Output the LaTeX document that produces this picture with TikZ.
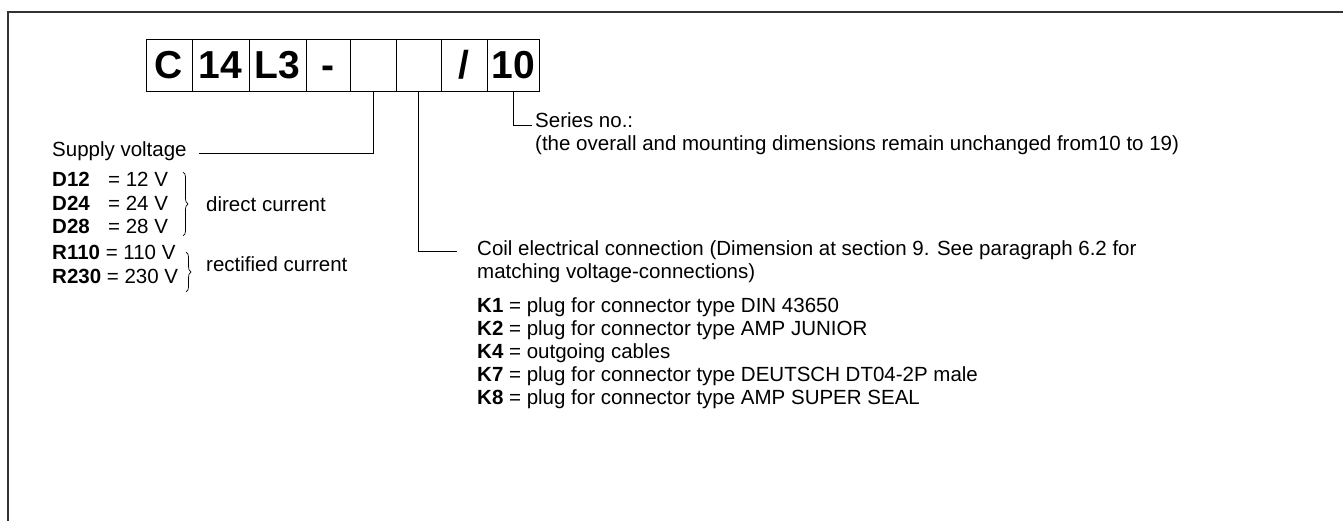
\documentclass[tikz,border=0pt]{standalone}
\usepackage{fontspec}
\setmainfont{Liberation Sans}
\usetikzlibrary{decorations.pathreplacing}
\begin{document}
\begin{tikzpicture}[x=1pt,y=-1pt,
  box/.style={draw, line width=0.8pt, minimum height=52pt, inner sep=0pt,
    font=\fontsize{39}{39}\selectfont\bfseries, text height=28pt, text depth=0pt},
  txt/.style={anchor=base west, inner sep=0pt, font=\fontsize{20.5}{23}\selectfont},
  conn/.style={line width=0.8pt},
  frame/.style={line width=1.3pt, draw=black!80},
  brc/.style={decorate, decoration={brace, amplitude=5pt}, line width=0.7pt}]
\useasboundingbox (0,0) rectangle (1343,521);
\draw[frame] (8,530) -- (8,12) -- (1350,12);
% code boxes
\node[box, minimum width=46pt] (b1) at (169,65) {C};
\node[box, minimum width=57pt] (b2) at (220.5,65) {14};
\node[box, minimum width=57pt] (b3) at (277.5,65) {L3};
\node[box, minimum width=44pt] (b4) at (328,65) {-};
\node[box, minimum width=46pt] (b5) at (373,65) {};
\node[box, minimum width=45pt] (b6) at (418.5,65) {};
\node[box, minimum width=46pt] (b7) at (464,65) {/};
\node[box, minimum width=52pt] (b8) at (513,65) {10};
% series
\node[txt] (ser) at (535,128) {Series no.:};
\node[txt] (ser2) at (535,151) {(the overall and mounting dimensions remain unchanged from10 to 19)};
\draw[conn] (b8.south) |- ([xshift=-3pt,yshift=3pt]ser.base west);
% supply voltage
\node[txt] (sup) at (52,157) {Supply voltage};
\draw[conn] (b5.south) |- ([xshift=12pt,yshift=4pt]sup.base east);
\node[txt] (d12) at (52,187) {\makebox[56pt][l]{\textbf{D12}}= 12 V};
\node[txt] (d24) at (52,210.5) {\makebox[56pt][l]{\textbf{D24}}= 24 V};
\node[txt] (d28) at (52,234) {\makebox[56pt][l]{\textbf{D28}}= 28 V};
\node[txt] (r110) at (52,260) {\textbf{R110} = 110 V};
\node[txt] (r230) at (52,283.5) {\textbf{R230} = 230 V};
\coordinate (dbt) at (183,172);
\coordinate (dbb) at (183,236);
\draw[brc] (dbt) -- (dbb);
\node[txt] (dc) at (206,212) {direct current};
\coordinate (rbt) at (186,252);
\coordinate (rbb) at (186,292);
\draw[brc] (rbt) -- (rbb);
\node[txt] (rc) at (206,272) {rectified current};
% coil
\node[txt] (coil) at (477,255) {Coil electrical connection (Dimension at section 9. See paragraph 6.2 for};
\node[txt] (coil2) at (477,278.5) {matching voltage-connections)};
\draw[conn] (b6.south) |- ([xshift=-20pt,yshift=4pt]coil.base west);
\node[txt] (k1) at (477,312) {\textbf{K1} = plug for connector type DIN 43650};
\node[txt] (k2) at (477,335) {\textbf{K2} = plug for connector type AMP JUNIOR};
\node[txt] (k4) at (477,358) {\textbf{K4} = outgoing cables};
\node[txt] (k7) at (477,381) {\textbf{K7} = plug for connector type DEUTSCH DT04-2P male};
\node[txt] (k8) at (477,404) {\textbf{K8} = plug for connector type AMP SUPER SEAL};
\end{tikzpicture}
\end{document}
